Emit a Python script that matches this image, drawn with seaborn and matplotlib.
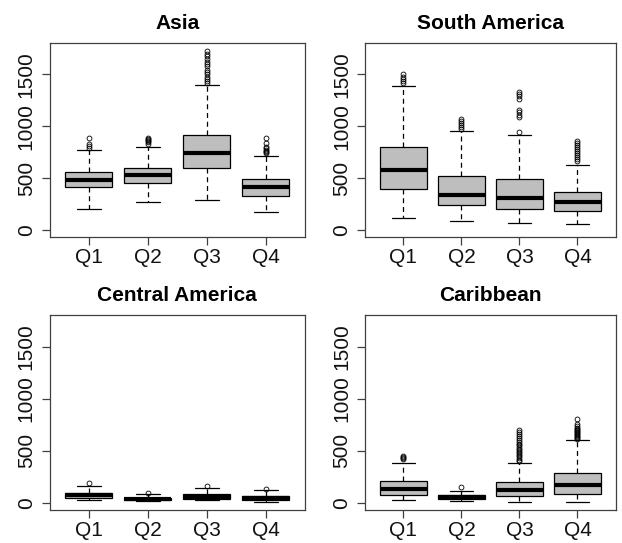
import pandas as pd
import seaborn as sns
import matplotlib.pyplot as plt

quarters = ['Q1', 'Q2', 'Q3', 'Q4']
regions = ['Asia', 'South America', 'Central America', 'Caribbean']

# five-number summaries: whisker low, Q1, median, Q3, whisker high
asia_stats = [[200, 410, 480, 555, 770],
              [270, 450, 525, 595, 800],
              [290, 600, 745, 920, 1395],
              [175, 330, 410, 490, 715]]
asia_out = [[790, 810, 830, 890],
            [830, 845, 855, 865, 875, 890],
            [1420, 1440, 1460, 1480, 1500, 1520, 1540, 1580, 1600, 1620, 1650, 1680, 1700, 1730],
            [740, 750, 760, 770, 785, 800, 840, 890]]

samerica_stats = [[110, 390, 577, 795, 1362],
                  [83, 235, 333, 522, 950],
                  [70, 196, 311, 487, 917],
                  [58, 186, 269, 362, 622]]
samerica_out = [[1390, 1420, 1440, 1460, 1480, 1500],
                [970, 990, 1010, 1030, 1050, 1070],
                [940, 1090, 1110, 1140, 1160, 1260, 1290, 1310, 1330],
                [660, 680, 700, 720, 740, 760, 780, 800, 820, 840, 860]]

camerica_stats = [[25, 45, 70, 95, 165],
                  [15, 25, 38, 50, 80],
                  [25, 35, 55, 80, 145],
                  [10, 30, 50, 68, 120]]
camerica_out = [[185], [95], [160], [135]]

carib_stats = [[26, 74, 132, 209, 386],
               [15, 38, 55, 70, 115],
               [10, 64, 119, 196, 377],
               [10, 80, 167, 288, 598]]
carib_out = [[420, 430, 440, 450],
             [151],
             [400, 415, 430, 445, 460, 475, 490, 505, 520, 535, 550, 565, 580, 600,
              620, 640, 660, 680, 700],
             [610, 620, 630, 640, 650, 660, 670, 680, 690, 700, 710, 720, 740, 760, 800]]

all_stats = [asia_stats, samerica_stats, camerica_stats, carib_stats]
all_out = [asia_out, samerica_out, camerica_out, carib_out]


def build_sample(stats, extra, block=60):
    # repeat the quartile values so the computed box lands on the read values
    lo, q1, med, q3, hi = stats
    return [lo] + [q1] * block + [med] * block + [q3] * block + [hi] + list(extra)


rows = []
for reg, st, out in zip(regions, all_stats, all_out):
    for q, s, o in zip(quarters, st, out):
        for v in build_sample(s, o):
            rows.append((reg, q, v))
df = pd.DataFrame(rows, columns=['region', 'quarter', 'value'])

sns.set_theme(style='ticks')
plt.rcParams['font.family'] = ['Liberation Sans', 'DejaVu Sans']

fig = plt.figure(figsize=(6.22, 5.43), dpi=100)
boxes = [[0.080, 0.5635, 0.410, 0.3575],
         [0.587, 0.5635, 0.403, 0.3575],
         [0.080, 0.0608, 0.410, 0.3592],
         [0.587, 0.0608, 0.403, 0.3592]]

for reg, pos in zip(regions, boxes):
    ax = fig.add_axes(pos)
    sns.boxplot(data=df[df.region == reg], x='quarter', y='value', order=quarters,
                ax=ax, color='#bebebe', linecolor='black', saturation=1,
                width=0.8, linewidth=0.9, whis=1.5,
                medianprops={'linewidth': 3, 'color': 'black', 'solid_capstyle': 'butt'},
                whiskerprops={'linestyle': (0, (4, 3)), 'linewidth': 0.9},
                capprops={'linewidth': 0.9},
                flierprops={'marker': 'o', 'markersize': 3.5, 'markerfacecolor': 'none',
                            'markeredgecolor': 'black', 'markeredgewidth': 0.6})
    ax.set_xlim(-0.66, 3.66)
    ax.set_ylim(-70, 1805)
    ax.set_yticks([0, 500, 1000, 1500])
    ax.set_xlabel('')
    ax.set_ylabel('')
    ax.set_title(reg, fontsize=15, fontweight='bold', pad=10, color='black')
    for sp in ax.spines.values():
        sp.set_visible(True)
        sp.set_color('#404040')
        sp.set_linewidth(0.9)
    ax.tick_params(axis='both', length=6, width=0.9, color='#404040',
                   labelsize=15, labelcolor='#111111')
    ax.tick_params(axis='x', pad=2)
    ax.tick_params(axis='y', pad=4, labelrotation=90)
    for lab in ax.get_yticklabels():
        lab.set_va('center')

fig.savefig('out.png', dpi=100)
